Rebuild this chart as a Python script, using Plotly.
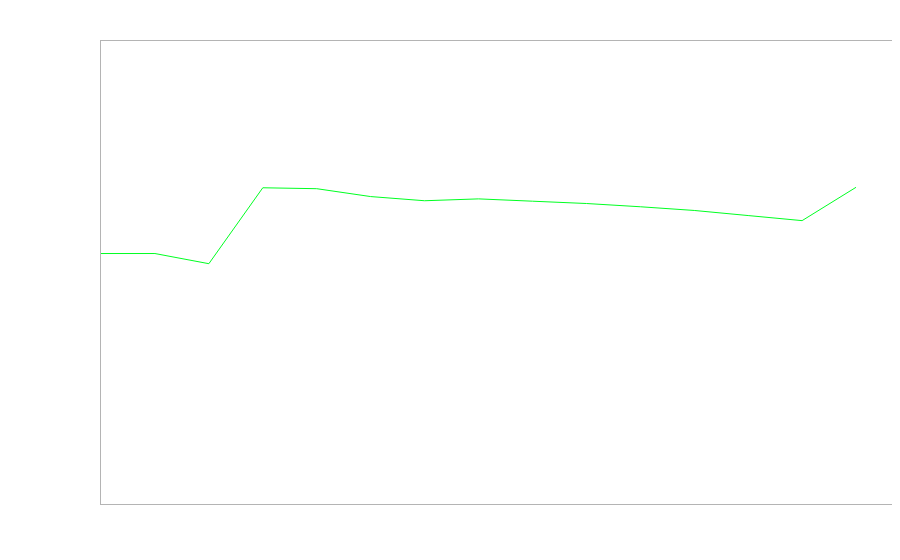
import plotly.graph_objects as go

x_index = list(range(15))
values = [54.1, 54.1, 51.9, 68.3, 68.1, 66.4, 65.5, 65.9, 65.4, 64.9, 64.2, 63.4, 62.3, 61.2, 68.4]

fig = go.Figure()
fig.add_trace(go.Scatter(x=x_index, y=values, mode="lines",
                         line=dict(color="#00ff22", width=1), showlegend=False, hoverinfo="skip"))

axis_style = dict(showgrid=False, zeroline=False, showticklabels=False, ticks="",
                  showline=True, mirror=True, linecolor="#b4b4b4", linewidth=1)
fig.update_layout(
    width=900, height=560,
    margin=dict(l=93, r=16, t=33, b=64),
    paper_bgcolor="white", plot_bgcolor="white",
    xaxis=dict(range=[0, 14.667], **axis_style),
    yaxis=dict(range=[0, 100], **axis_style),
)
fig.write_html("out.html")
